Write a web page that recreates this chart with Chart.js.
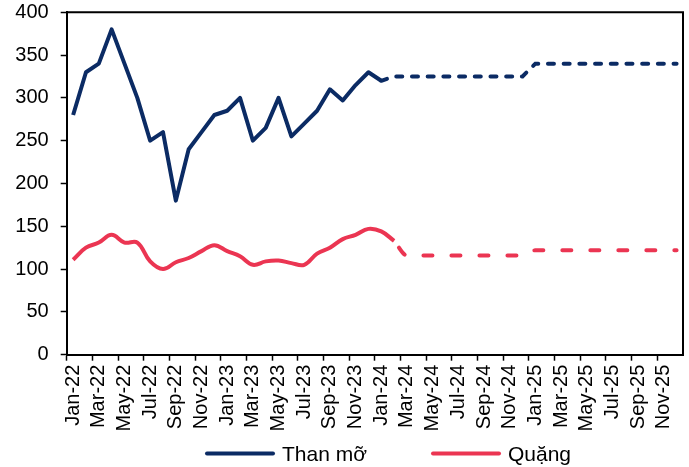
<!DOCTYPE html>
<html>
<head>
<meta charset="utf-8">
<script src="https://cdn.jsdelivr.net/npm/chart.js@4"></script>
<style>
  html, body { margin: 0; padding: 0; background: #ffffff; }
  #wrap { width: 689px; height: 467px; position: relative; }
</style>
</head>
<body>
<div id="wrap"><canvas id="chart"></canvas></div>
<script>
// Month categories Jan-22 .. Dec-25
const monthNames = ['Jan', 'Feb', 'Mar', 'Apr', 'May', 'Jun', 'Jul', 'Aug', 'Sep', 'Oct', 'Nov', 'Dec'];
const yearSuffixes = ['22', '23', '24', '25'];
const categories = yearSuffixes.flatMap(y => monthNames.map(m => m + '-' + y));

// Coking coal (Than mỡ): history Jan-22 .. Jan-24
const coalActual = [280, 330, 340, 380, 340, 300, 250, 260, 180, 240, 260, 280,
                    285, 300, 250, 265, 300, 255, 270, 285, 310, 297, 315, 330,
                    320];
// Coking coal outlook Jan-24 .. Dec-25
const coalForecast = [320, 325, 325, 325, 325, 325, 325, 325, 325, 325, 325, 325,
                      340, 340, 340, 340, 340, 340, 340, 340, 340, 340, 340, 340];

// Iron ore (Quặng): history Jan-22 .. Feb-24
const oreActual = [111, 125, 131, 140, 131, 131, 109, 100, 108, 113, 121, 128,
                   121, 115, 105, 109, 110, 107, 105, 118, 125, 135, 140, 147,
                   144, 133];
// Iron ore outlook Feb-24 .. Dec-25
const oreForecast = [133, 116, 116, 116, 116, 116, 116, 116, 116, 116, 116,
                     122, 122, 122, 122, 122, 122, 122, 122, 122, 122, 122, 122];

const yTicks = { min: 0, max: 400, step: 50 };

const seriesNames = ['Than mỡ', 'Quặng'];
const NAVY = '#0b2b64';
const RED = '#eb3552';
const FONT = "'Liberation Sans', Arial, sans-serif";

// place a partial series on the full month axis
function placeAt(startIndex, values) {
  const out = new Array(categories.length).fill(null);
  values.forEach((v, i) => { out[startIndex + i] = v; });
  return out;
}

// top/right frame of the plotting area
const frame = {
  id: 'frame',
  afterDatasetsDraw(chart) {
    const { ctx, chartArea: a } = chart;
    ctx.save();
    ctx.strokeStyle = '#000';
    ctx.lineWidth = 2;
    ctx.beginPath();
    ctx.moveTo(a.left, a.top);
    ctx.lineTo(a.right, a.top);
    ctx.lineTo(a.right, a.bottom);
    ctx.stroke();
    ctx.restore();
  }
};

// legend row under the axis labels
const legendRow = {
  id: 'legendRow',
  afterDraw(chart) {
    const { ctx } = chart;
    const items = [
      { text: chart.data.datasets[0].label, color: chart.data.datasets[0].borderColor, x: 207 },
      { text: chart.data.datasets[2].label, color: chart.data.datasets[2].borderColor, x: 433 }
    ];
    const y = 453.5;
    ctx.save();
    items.forEach(it => {
      ctx.strokeStyle = it.color;
      ctx.lineWidth = 4;
      ctx.lineCap = 'round';
      ctx.beginPath();
      ctx.moveTo(it.x, y);
      ctx.lineTo(it.x + 66, y);
      ctx.stroke();
      ctx.fillStyle = '#000';
      ctx.font = '21px ' + FONT;
      ctx.textBaseline = 'alphabetic';
      ctx.textAlign = 'left';
      ctx.fillText(it.text, it.x + 75, y + 7.5);
    });
    ctx.restore();
  }
};

new Chart(document.getElementById('chart'), {
  type: 'line',
  data: {
    labels: categories,
    datasets: [
      {
        label: seriesNames[0],
        data: placeAt(0, coalActual),
        borderColor: NAVY,
        borderWidth: 4,
        tension: 0,
        pointRadius: 0,
        borderJoinStyle: 'round'
      },
      {
        label: seriesNames[0] + ' ',
        data: placeAt(24, coalForecast),
        borderColor: NAVY,
        borderWidth: 4,
        tension: 0,
        pointRadius: 0,
        borderDash: [6, 9.7],
        borderCapStyle: 'round'
      },
      {
        label: seriesNames[1],
        data: placeAt(0, oreActual),
        borderColor: RED,
        borderWidth: 4,
        tension: 0.4,
        pointRadius: 0
      },
      {
        label: seriesNames[1] + ' ',
        data: placeAt(25, oreForecast),
        borderColor: RED,
        borderWidth: 4,
        cubicInterpolationMode: 'monotone',
        pointRadius: 0,
        borderDash: [9, 19],
        borderDashOffset: 19.7,
        borderCapStyle: 'round'
      }
    ]
  },
  options: {
    responsive: true,
    maintainAspectRatio: false,
    animation: false,
    devicePixelRatio: 1,
    layout: { padding: { left: 0, right: 6, top: 12.3, bottom: 0 } },
    plugins: {
      legend: { display: false },
      tooltip: { enabled: false }
    },
    scales: {
      x: {
        type: 'category',
        offset: true,
        afterFit(scale) {
          scale.height = 112.3;
          scale.paddingLeft = 0;
          scale.paddingRight = 0;
        },
        grid: {
          offset: true,
          drawOnChartArea: false,
          drawTicks: true,
          tickLength: 6,
          tickWidth: 1.5,
          tickColor: ctx => (ctx.index % 2 === 0 ? '#000' : 'rgba(0,0,0,0)')
        },
        border: { display: true, color: '#000', width: 2 },
        ticks: {
          autoSkip: false,
          minRotation: 90,
          maxRotation: 90,
          padding: 4,
          color: '#000',
          font: { family: FONT, size: 20 },
          callback(value, index) {
            return index % 2 === 0 ? this.getLabelForValue(value) : '';
          }
        }
      },
      y: {
        min: yTicks.min,
        max: yTicks.max,
        afterFit(scale) {
          scale.width = 66.7;
          scale.paddingTop = 0;
          scale.paddingBottom = 0;
        },
        grid: {
          drawOnChartArea: false,
          drawTicks: true,
          tickLength: 6,
          tickWidth: 1.5,
          tickColor: '#000'
        },
        border: { display: true, color: '#000', width: 2 },
        ticks: {
          stepSize: yTicks.step,
          padding: 12,
          color: '#000',
          font: { family: FONT, size: 20 }
        }
      }
    }
  },
  plugins: [frame, legendRow]
});
</script>
</body>
</html>
